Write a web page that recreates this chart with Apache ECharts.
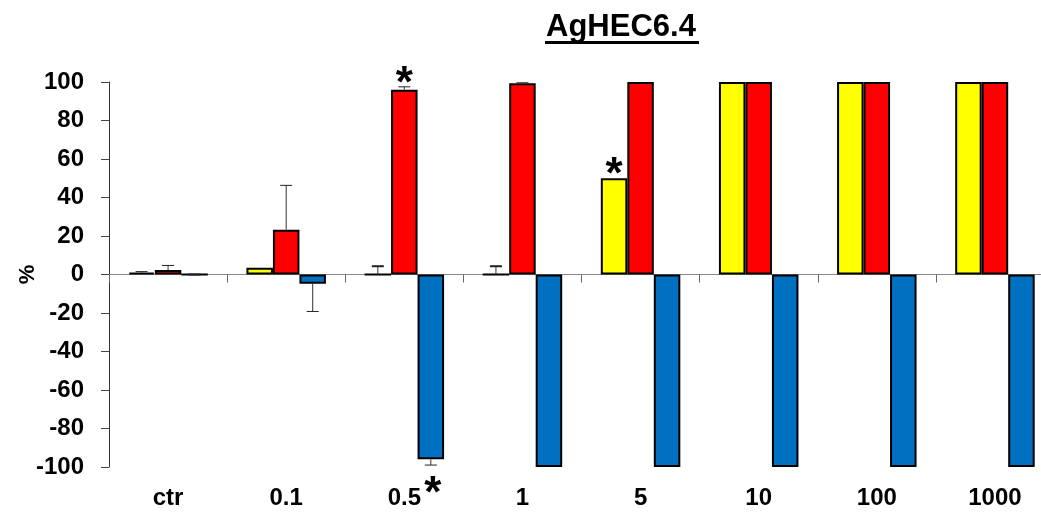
<!DOCTYPE html>
<html>
<head>
<meta charset="utf-8">
<script src="https://cdn.jsdelivr.net/npm/echarts@6/dist/echarts.min.js"></script>
<style>
  html, body { margin: 0; padding: 0; background: #fff; overflow: hidden; }
  /* the plot runs a little past the right edge of the window */
  #chart { width: 1060px; height: 512px; }
</style>
</head>
<body>
<div id="chart"></div>
<script>
// Concentrations tested
const categories = ['ctr', '0.1', '0.5', '1', '5', '10', '100', '1000'];

// Mean responses (%) per concentration
const yellowValues = [1, 3.5, 0, 0, 50, 100, 100, 100];
const redValues    = [2.3, 23.3, 96, 99.3, 100, 100, 100, 100];
const blueValues   = [0, -4.8, -96, -100, -100, -100, -100, -100];

// Error (one-sided, in the direction of the bar)
const yellowErr = [0.5, 0, 4.3, 4.3, 0, 0, 0, 0];
const redErr    = [2.4, 23, 1.5, 0.3, 0, 0, 0, 0];
const blueErr   = [0, 14.4, 3, 0, 0, 0, 0, 0];

// Significance markers (1 = marked with *)
const yellowSig = [0, 0, 0, 0, 1, 0, 0, 0];
const redSig    = [0, 0, 1, 0, 0, 0, 0, 0];
const blueSig   = [0, 0, 1, 0, 0, 0, 0, 0];

const yTicks = { min: -100, max: 100, interval: 20 };

const FONT = '"Liberation Sans", Arial, sans-serif';
const BAR_W = 26.5;
const colors = ['#FFFF00', '#FF0000', '#0070C0'];

const groups = [
  { values: yellowValues, err: yellowErr, sig: yellowSig },
  { values: redValues, err: redErr, sig: redSig },
  { values: blueValues, err: blueErr, sig: blueSig }
];

const barSeries = groups.map((g, i) => ({
  type: 'bar',
  xAxisIndex: 0,
  data: g.values,
  barWidth: BAR_W,
  barGap: '0%',
  itemStyle: { color: colors[i], borderColor: '#000', borderWidth: 2 },
  silent: true,
  z: 2
}));

// Error bars and significance stars, offset to sit on their own bar
const errSeries = groups.map((g, i) => ({
  type: 'custom',
  xAxisIndex: 0,
  z: 3,
  silent: true,
  data: g.values.map((v, k) => [k, v, g.err[k], g.sig[k]]),
  renderItem: function (params, api) {
    const k = api.value(0);
    const v = api.value(1);
    const e = api.value(2);
    const s = api.value(3);
    const dir = v < 0 ? -1 : 1;
    const x = api.coord([k, 0])[0] + (i - 1) * BAR_W;
    const y0 = api.coord([k, v])[1];
    const y1 = api.coord([k, v + dir * e])[1];
    const children = [];
    if (e > 0 || v === 0) {
      children.push({
        type: 'line',
        shape: { x1: x, y1: y0, x2: x, y2: y1 },
        style: { stroke: '#333', lineWidth: 1 }
      });
      children.push({
        type: 'line',
        shape: { x1: x - 6, y1: y1, x2: x + 6, y2: y1 },
        style: { stroke: '#222', lineWidth: v === 0 ? 2 : 1 }
      });
    }
    if (s) {
      // the asterisk glyph sits high in its em box, hence the extra drop
      const yStar = dir > 0 ? Math.min(y0, y1) - 2 : Math.max(y0, y1) + 30;
      children.push({
        type: 'text',
        x: x + (dir > 0 ? 0 : 2),
        y: yStar,
        style: {
          text: '*',
          font: 'bold 44px ' + FONT,
          fill: '#000',
          align: 'center',
          verticalAlign: 'middle'
        }
      });
    }
    return { type: 'group', children: children };
  }
}));

const chart = echarts.init(document.getElementById('chart'), null, { renderer: 'canvas' });
chart.setOption({
  backgroundColor: '#fff',
  animation: false,
  grid: { left: 109, right: 6, top: 82, bottom: 45, containLabel: false, outerBoundsMode: 'none' },
  xAxis: [
    {
      type: 'category',
      data: categories,
      axisLine: { onZero: true, lineStyle: { color: '#888', width: 1 } },
      axisTick: { show: true, length: 8, lineStyle: { color: '#666' } },
      axisLabel: { show: false },
      splitLine: { show: false }
    },
    {
      type: 'category',
      data: categories,
      position: 'bottom',
      axisLine: { show: false, onZero: false },
      axisTick: { show: false },
      axisLabel: {
        margin: 19,
        color: '#000',
        fontFamily: FONT,
        fontWeight: 'bold',
        fontSize: 24
      },
      splitLine: { show: false }
    }
  ],
  yAxis: {
    type: 'value',
    min: yTicks.min,
    max: yTicks.max,
    interval: yTicks.interval,
    name: '%',
    nameLocation: 'middle',
    nameRotate: 90,
    nameGap: 70,
    nameMoveOverlap: false,
    nameTextStyle: { color: '#000', fontFamily: FONT, fontWeight: 'bold', fontSize: 22 },
    axisLine: { show: true, lineStyle: { color: '#333', width: 1 } },
    axisTick: { show: true, length: 8, inside: false, lineStyle: { color: '#444' } },
    axisLabel: {
      margin: 25,
      color: '#000',
      fontFamily: FONT,
      fontWeight: 'bold',
      fontSize: 24
    },
    splitLine: { show: false }
  },
  graphic: [
    {
      type: 'text',
      left: 546,
      top: 12,
      style: {
        text: 'AgHEC6.4',
        font: 'bold 31px ' + FONT,
        fill: '#000'
      }
    },
    {
      type: 'rect',
      shape: { x: 545, y: 41, width: 154, height: 3 },
      style: { fill: '#000' }
    }
  ],
  series: barSeries.concat(errSeries)
});
</script>
</body>
</html>
